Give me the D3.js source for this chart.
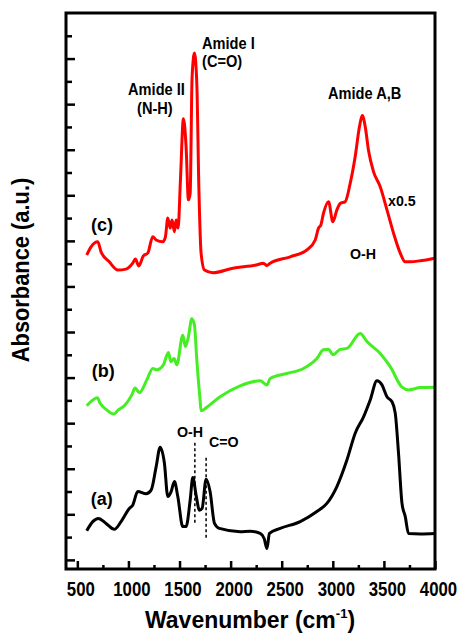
<!DOCTYPE html>
<html lang="en">
<head>
<meta charset="UTF-8">
<script src="https://d3js.org/d3.v7.min.js"></script>
<title>FTIR spectra</title>
<style>
  body { margin: 0; background: #fff; }
  text { font-family: "Liberation Sans", Arial, Helvetica, sans-serif; font-weight: bold; fill: #000; }
</style>
</head>
<body>
<div id="my_dataviz"></div>
<script>

// spectra: [wavenumber, absorbance (a.u.)]
var spectrumA = [[592,0.64],[651,0.84],[706,0.91],[781,0.80],[862,0.67],[928,0.84],[1009,1.13],[1042,1.20],
  [1091,1.50],[1173,1.45],[1222,1.53],[1271,2.04],[1310,2.47],[1352,2.12],[1385,1.39],[1418,1.50],[1450,1.72],
  [1483,1.39],[1532,0.73],[1564,0.73],[1604,1.31],[1630,1.81],[1662,1.42],[1695,1.09],[1721,1.13],[1760,1.77],
  [1799,1.50],[1842,0.80],[1890,0.69],[2093,0.62],[2191,0.63],[2289,0.58],[2328,0.47],[2355,0.25],[2380,0.58],
  [2485,0.69],[2681,0.84],[2844,1.06],[2942,1.24],[3040,1.61],[3138,2.19],[3219,2.78],[3301,3.14],[3366,3.51],
  [3432,3.93],[3481,3.84],[3530,3.58],[3579,3.47],[3611,3.22],[3643,2.34],[3677,1.24],[3709,0.95],[3741,0.58],
  [3856,0.57],[4000,0.58]]

var spectrumB = [[592,3.38],[641,3.49],[696,3.56],[722,3.44],[788,3.29],[853,3.20],[901,3.29],[967,3.40],
  [1033,3.62],[1065,3.77],[1107,3.67],[1180,3.95],[1238,4.20],[1277,4.17],[1342,4.28],[1391,4.55],[1415,4.35],
  [1447,4.42],[1473,4.28],[1532,4.93],[1558,4.68],[1587,4.90],[1620,5.29],[1646,5.15],[1669,4.39],[1701,3.51],
  [1711,3.27],[1767,3.35],[1897,3.58],[2093,3.82],[2289,3.93],[2355,3.84],[2387,3.98],[2550,4.09],[2713,4.20],
  [2844,4.42],[2909,4.61],[2958,4.62],[3001,4.50],[3072,4.62],[3138,4.64],[3268,4.97],[3334,4.79],[3464,4.53],
  [3562,4.24],[3677,3.79],[3741,3.73],[3856,3.78],[4000,3.79]]

var spectrumC = [[592,6.69],[634,6.87],[700,6.98],[732,6.76],[813,6.54],[896,6.36],[977,6.38],[1042,6.51],
  [1068,6.60],[1101,6.45],[1146,6.67],[1189,6.73],[1238,7.09],[1271,7.02],[1336,6.98],[1362,7.09],[1385,7.50],
  [1408,7.28],[1427,7.46],[1450,7.20],[1466,7.46],[1486,7.28],[1509,8.34],[1538,9.68],[1564,9.07],[1587,7.90],
  [1604,8.04],[1623,10.60],[1646,11.12],[1669,10.46],[1689,8.19],[1711,6.73],[1744,6.36],[1826,6.30],[2022,6.40],
  [2250,6.47],[2321,6.51],[2355,6.46],[2387,6.51],[2583,6.65],[2746,6.80],[2828,7.02],[2860,7.28],[2883,7.35],
  [2909,7.61],[2958,7.86],[3001,7.42],[3040,7.68],[3072,7.82],[3121,7.86],[3170,8.26],[3219,8.85],[3261,9.51],
  [3288,9.75],[3317,9.51],[3349,8.99],[3398,8.52],[3464,8.19],[3530,7.68],[3594,7.17],[3660,6.73],[3709,6.54],
  [3758,6.54],[3872,6.57],[4000,6.62]]

var xTicks = [500, 1000, 1500, 2000, 2500, 3000, 3500, 4000]
var xMinor = [750, 1250, 1750, 2250, 2750, 3250, 3750]

// marker lines on (a): wavenumber, from, to
var markers = [[1650, 2.57, 0.81], [1760, 2.24, 0.48]]

// labels: text, wavenumber, absorbance of baseline
var notes = [
  ["Amide I", 1720, 11.21], ["(C=O)", 1720, 10.82],
  ["Amide II", 996, 10.20], ["(N-H)", 1084, 9.78],
  ["Amide A,B", 2953, 10.11]
]
var smallNotes = [["x0.5", 3540, 7.77], ["O-H", 3168, 6.60], ["O-H", 1475, 2.70], ["C=O", 1788, 2.48]]
var curveLabels = [["(c)", 634, 7.22], ["(b)", 640, 4.01], ["(a)", 631, 1.20]]

var margin = {top: 13, right: 26, bottom: 66, left: 66},
    width = 461 - margin.left - margin.right,
    height = 635 - margin.top - margin.bottom;

var svg = d3.select("#my_dataviz")
  .append("svg")
    .attr("width", 461)
    .attr("height", 635)
  .append("g")
    .attr("transform", "translate(" + margin.left + "," + margin.top + ")");

var x = d3.scaleLinear().domain([389, 4000]).range([0, width])
var y = d3.scaleLinear().domain([-0.2, 12]).range([height, 0])

// x axis: inward ticks, labels below
var xAxis = svg.append("g")
  .attr("transform", "translate(0," + height + ")")
  .call(d3.axisBottom(x).tickValues(xTicks).tickSize(-8).tickPadding(13).tickFormat(d3.format("d")))
xAxis.selectAll("text")
  .style("font-size", "20px")
  .attr("transform", "translate(3,0) scale(0.84,1)")
svg.append("g")
  .attr("transform", "translate(0," + height + ")")
  .call(d3.axisBottom(x).tickValues(xMinor).tickSize(-4).tickFormat(""))

// y axis: ticks only
svg.append("g")
  .call(d3.axisLeft(y).tickValues(d3.range(0, 12, 1)).tickSize(-9).tickFormat(""))
svg.append("g")
  .call(d3.axisLeft(y).tickValues(d3.range(0.5, 12, 1)).tickSize(-6).tickFormat(""))

svg.selectAll(".domain").remove()
svg.selectAll(".tick line").attr("stroke", "#000").attr("stroke-width", 2.5)

// spectra
var line = d3.line()
  .x(function(d) { return x(d[0]) })
  .y(function(d) { return y(d[1]) })
  .curve(d3.curveMonotoneX)

var series = [[spectrumA, "#000000"], [spectrumB, "#44ee22"], [spectrumC, "#ff0000"]]
svg.selectAll(".spectrum")
  .data(series)
  .enter()
  .append("path")
    .attr("class", "spectrum")
    .attr("d", function(d) { return line(d[0]) })
    .attr("fill", "none")
    .attr("stroke", function(d) { return d[1] })
    .attr("stroke-width", 3)
    .attr("stroke-linejoin", "round")

svg.selectAll(".marker")
  .data(markers)
  .enter()
  .append("line")
    .attr("x1", function(d) { return x(d[0]) })
    .attr("x2", function(d) { return x(d[0]) })
    .attr("y1", function(d) { return y(d[1]) })
    .attr("y2", function(d) { return y(d[2]) })
    .attr("stroke", "#000")
    .attr("stroke-width", 1.5)
    .attr("stroke-dasharray", "3,2.5")

// frame
svg.append("rect")
  .attr("width", width)
  .attr("height", height)
  .attr("fill", "none")
  .attr("stroke", "#000")
  .attr("stroke-width", 3)

svg.selectAll(".note")
  .data(notes)
  .enter()
  .append("text")
    .attr("transform", function(d) { return "translate(" + x(d[1]) + "," + y(d[2]) + ") scale(0.86,1)" })
    .style("font-size", "17px")
    .text(function(d) { return d[0] })

svg.selectAll(".small-note")
  .data(smallNotes)
  .enter()
  .append("text")
    .attr("transform", function(d) { return "translate(" + x(d[1]) + "," + y(d[2]) + ") scale(0.95,1)" })
    .style("font-size", "15px")
    .text(function(d) { return d[0] })

svg.selectAll(".curve-label")
  .data(curveLabels)
  .enter()
  .append("text")
    .attr("transform", function(d) { return "translate(" + x(d[1]) + "," + y(d[2]) + ")" })
    .style("font-size", "18px")
    .text(function(d) { return d[0] })

// axis titles
var xTitle = svg.append("text")
  .attr("transform", "translate(" + (250 - margin.left) + "," + (628 - margin.top) + ")")
  .attr("text-anchor", "middle")
  .style("font-size", "23px")
xTitle.append("tspan").text("Wavenumber (cm")
xTitle.append("tspan").text("-1").style("font-size", "13px").attr("dy", "-10")
xTitle.append("tspan").text(")").attr("dy", "10")

svg.append("text")
  .attr("transform", "translate(" + (29 - margin.left) + "," + (270 - margin.top) + ") rotate(-90) scale(0.95,1)")
  .attr("text-anchor", "middle")
  .style("font-size", "23px")
  .text("Absorbance (a.u.)")

</script>
</body>
</html>
